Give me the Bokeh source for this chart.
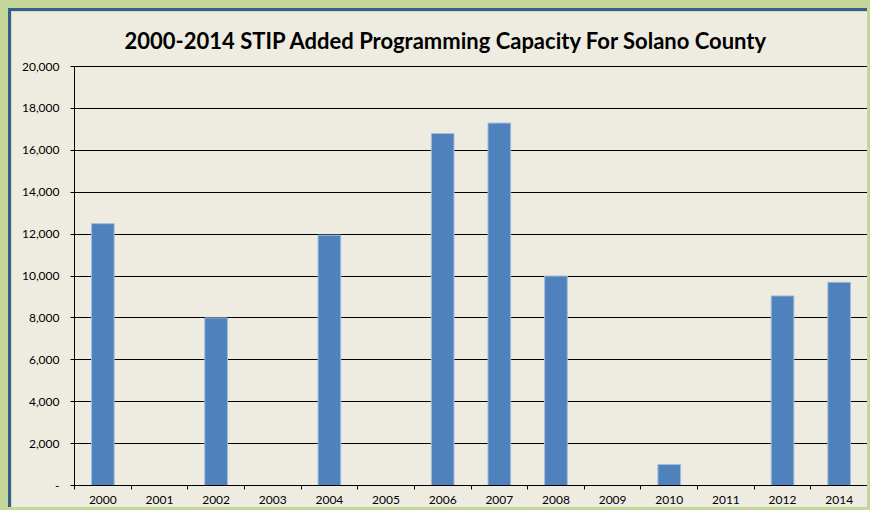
from bokeh.plotting import figure
from bokeh.embed import file_html
from bokeh.resources import INLINE
from bokeh.models import FixedTicker, NumeralTickFormatter, ColumnDataSource

years = ["2000", "2001", "2002", "2003", "2004", "2005", "2006", "2007",
         "2008", "2009", "2010", "2011", "2012", "2014"]
capacity = [12500, 0, 8000, 0, 11950, 0, 16800, 17300, 10000, 0, 1000, 0, 9050, 9700]
y_ticks = [0, 2000, 4000, 6000, 8000, 10000, 12000, 14000, 16000, 18000, 20000]
title_text = "2000-2014 STIP Added Programming Capacity For Solano County"

FONT = "Lato"
BEIGE = "#eeece1"
BLUE_BORDER = "#3a5f8f"

xpos = [i + 0.5 for i in range(len(years))]
src = ColumnDataSource(dict(x=xpos, top=capacity, year=years))

p = figure(width=859, height=499, output_backend="svg", toolbar_location=None,
           x_range=(0, len(years)), y_range=(0, 20000),
           min_border_left=63, min_border_top=55, min_border_right=3, min_border_bottom=25)
p.styles = {"border-left": f"3px solid {BLUE_BORDER}", "border-top": f"3px solid {BLUE_BORDER}"}

p.background_fill_color = BEIGE
p.border_fill_color = BEIGE
p.outline_line_color = "black"
p.outline_line_width = 1

p.vbar(x="x", top="top", width=0.4, bottom=0, source=src,
       fill_color="#4f81bd", line_color="#a3bcdc", line_width=1)

p.title.text = title_text
p.title.text_font = FONT
p.title.text_font_size = "22px"
p.title.text_font_style = "bold"
p.title.align = "left"
p.title.text_color = "black"
p.title.standoff = 25
p.title.offset = 50

p.xgrid.visible = False
p.ygrid.grid_line_color = "black"
p.ygrid.grid_line_width = 1
p.ygrid.ticker = FixedTicker(ticks=y_ticks)

# y axis
p.yaxis.ticker = FixedTicker(ticks=y_ticks)
p.yaxis.formatter = NumeralTickFormatter(format="0,0")
p.yaxis.major_label_overrides = {0: "-"}
p.yaxis.major_tick_out = 4
p.yaxis.major_tick_in = 0
p.yaxis.minor_tick_line_color = None
p.yaxis.axis_line_color = "black"
p.yaxis.major_tick_line_color = "black"
p.yaxis.major_label_standoff = 11
p.yaxis.major_label_text_font = FONT
p.yaxis.major_label_text_font_size = "12px"
p.yaxis.major_label_text_color = "black"

# x axis: labels at category centres, ticks at category boundaries
p.xaxis.ticker = FixedTicker(ticks=xpos, minor_ticks=list(range(len(years) + 1)))
p.xaxis.major_label_overrides = {x: y for x, y in zip(xpos, years)}
p.xaxis.major_tick_line_color = None
p.xaxis.major_tick_out = 4
p.xaxis.major_tick_in = 0
p.xaxis.minor_tick_line_color = "black"
p.xaxis.minor_tick_out = 4
p.xaxis.minor_tick_in = 0
p.xaxis.axis_line_color = "black"
p.xaxis.major_label_standoff = 6
p.xaxis.major_label_text_font = FONT
p.xaxis.major_label_text_font_size = "12px"
p.xaxis.major_label_text_color = "black"

html = file_html(p, INLINE)
html = html.replace(
    "</head>",
    "<style>html, body { background: #c4d79b; } body { padding: 8px 0 0 8px !important; margin: 0 !important; overflow: hidden; }</style></head>",
    1)
open("out.html", "w").write(html)
